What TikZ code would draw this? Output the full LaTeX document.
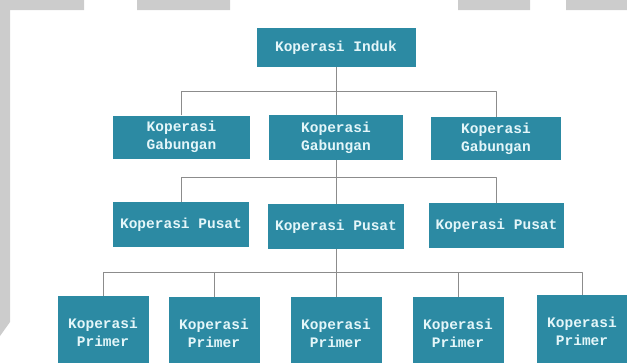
\documentclass[tikz,border=0pt]{standalone}
\usepackage{fontspec}
\setmonofont{Liberation Mono}
\usetikzlibrary{calc}
\definecolor{boxteal}{RGB}{44,138,163}
\definecolor{boxtext}{RGB}{228,246,249}
\definecolor{linkgray}{RGB}{140,140,140}
\definecolor{sheetgray}{RGB}{204,204,204}
\tikzset{
  unit/.style={fill=boxteal,text=boxtext,align=center,inner sep=0pt,
    font=\ttfamily\bfseries\fontsize{14.5}{18}\selectfont},
  link/.style={draw=linkgray,line width=0.8pt}
}
\begin{document}
\begin{tikzpicture}[x=1pt,y=-1pt,line join=round]
\useasboundingbox (0,0) rectangle (627,362);
\clip (0,0) rectangle (627,362);
% grey edges of the scanned sheet
\fill[sheetgray] (0,0) rectangle (84,10) (137,0) rectangle (230,10)
  (458,0) rectangle (530,10) (566,0) rectangle (627,10);
\fill[sheetgray] (0,0)--(10,0)--(10,322)--(0,336)--cycle;
% levels
\node[unit,minimum width=159pt,minimum height=39pt] (induk) at (336,47.5) {Koperasi Induk};
\node[unit,minimum width=137pt,minimum height=43pt] (gab1) at (181.5,137) {Koperasi\\Gabungan};
\node[unit,minimum width=134pt,minimum height=45pt] (gab2) at (336,137.5) {Koperasi\\Gabungan};
\node[unit,minimum width=130pt,minimum height=43pt] (gab3) at (496,138.5) {Koperasi\\Gabungan};
\node[unit,minimum width=136pt,minimum height=45pt] (pus1) at (181,224.5) {Koperasi Pusat};
\node[unit,minimum width=136pt,minimum height=45pt] (pus2) at (336,226.5) {Koperasi Pusat};
\node[unit,minimum width=135pt,minimum height=45pt] (pus3) at (496.5,225.5) {Koperasi Pusat};
\foreach \n/\x/\y in {1/103/332,2/214/333,3/336/333,4/458/333,5/582/331}
  \node[unit,minimum width=91pt,minimum height=72pt] (pri\n) at (\x,\y) {Koperasi\\Primer};
% bus lines
\coordinate (busA) at (0,91);
\coordinate (busB) at (0,177);
\coordinate (busC) at (0,272);
\draw[link] (induk.south) -- (gab2.north);
\draw[link] (gab1.north) -- (gab1.north |- busA) -- (gab3.north |- busA) -- (gab3.north);
\draw[link] (gab2.south) -- (pus2.north);
\draw[link] (pus1.north) -- (pus1.north |- busB) -- (pus3.north |- busB) -- (pus3.north);
\draw[link] (pus2.south) -- (pri3.north);
\draw[link] (pri1.north) -- (pri1.north |- busC) -- (pri5.north |- busC) -- (pri5.north);
\draw[link] (pri2.north) -- (pri2.north |- busC);
\draw[link] (pri4.north) -- (pri4.north |- busC);
\end{tikzpicture}
\end{document}
